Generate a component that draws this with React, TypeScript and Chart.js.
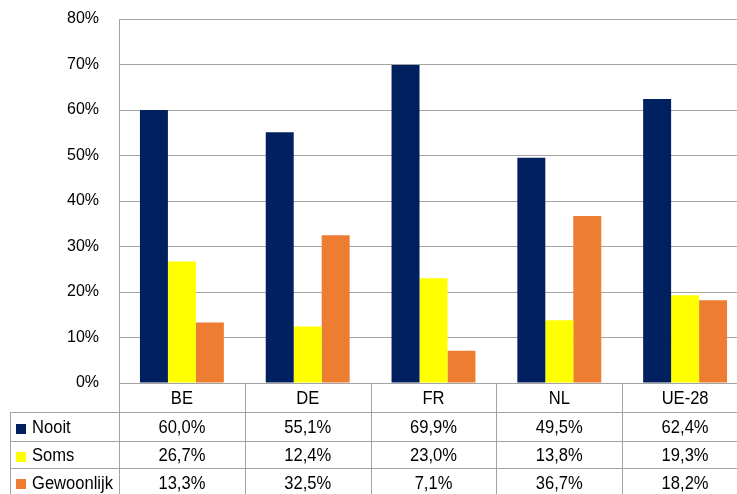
import React, { useEffect, useRef } from "react";
import { Chart, registerables } from "chart.js";

Chart.register(...registerables);

const categories = ["BE", "DE", "FR", "NL", "UE-28"];
const seriesNames = ["Nooit", "Soms", "Gewoonlijk"];
const nooit = [60.0, 55.1, 69.9, 49.5, 62.4];
const soms = [26.7, 12.4, 23.0, 13.8, 19.3];
const gewoonlijk = [13.3, 32.5, 7.1, 36.7, 18.2];
const colors = ["#002060", "#ffff00", "#ed7d31"];
const yTicks = [0, 10, 20, 30, 40, 50, 60, 70, 80];

const GRID = "#a3a3a3";
const FAMILY = '"Liberation Sans", Arial, sans-serif';
const FONT = '18px ' + FAMILY;
const SX = 0.92;

const fmt = (v: number) => v.toFixed(1).replace(".", ",") + "%";

const tablePlugin = {
  id: "dataTable",
  afterDraw(chart: any) {
    const ctx = chart.ctx;
    const area = chart.chartArea;
    const n = categories.length;
    const cw = (area.right - area.left) / n;
    const top = area.bottom;
    const rowTops = [top, top + 29, top + 58, top + 85, top + 113];
    const tableLeft = 10;
    const data = [nooit, soms, gewoonlijk];
    ctx.save();
    ctx.strokeStyle = GRID;
    ctx.lineWidth = 1;
    const hline = (x1: number, x2: number, y: number) => {
      ctx.beginPath();
      ctx.moveTo(x1, Math.round(y) + 0.5);
      ctx.lineTo(x2, Math.round(y) + 0.5);
      ctx.stroke();
    };
    const vline = (x: number, y1: number, y2: number) => {
      ctx.beginPath();
      ctx.moveTo(Math.round(x) + 0.5, y1);
      ctx.lineTo(Math.round(x) + 0.5, y2);
      ctx.stroke();
    };
    const text = (t: string, x: number, y: number, align: string) => {
      ctx.save();
      ctx.translate(x, y);
      ctx.scale(SX, 1);
      ctx.textAlign = align;
      ctx.fillText(t, 0, 0);
      ctx.restore();
    };
    hline(area.left, area.right, rowTops[0]);
    for (let r = 1; r < rowTops.length; r++) hline(tableLeft, area.right, rowTops[r]);
    vline(tableLeft, rowTops[1], rowTops[4]);
    for (let i = 0; i <= n; i++) vline(area.left + i * cw, rowTops[0], rowTops[4]);

    ctx.font = FONT;
    ctx.fillStyle = "#000";
    ctx.textBaseline = "middle";
    categories.forEach((c, i) => {
      const cx = chart.scales.x.getPixelForValue(i);
      text(c, cx, (rowTops[0] + rowTops[1]) / 2 + 2, "center");
    });
    for (let s = 0; s < 3; s++) {
      const cy = (rowTops[s + 1] + rowTops[s + 2]) / 2 + 2;
      ctx.fillStyle = colors[s];
      ctx.fillRect(16, Math.round(cy - 5), 10, 10);
      ctx.fillStyle = "#000";
      text(seriesNames[s], 32, cy, "left");
      data[s].forEach((v, i) => {
        const cx = chart.scales.x.getPixelForValue(i);
        text(fmt(v), cx, cy, "center");
      });
    }
    ctx.restore();
  },
};

export default function App() {
  const ref = useRef<HTMLCanvasElement>(null);
  useEffect(() => {
    if (!ref.current) return;
    const chart = new Chart(ref.current, {
      type: "bar",
      data: {
        labels: categories,
        datasets: [
          { label: seriesNames[0], data: nooit, backgroundColor: colors[0] },
          { label: seriesNames[1], data: soms, backgroundColor: colors[1] },
          { label: seriesNames[2], data: gewoonlijk, backgroundColor: colors[2] },
        ],
      },
      options: {
        responsive: false,
        animation: false,
        layout: { padding: { top: 19, right: 12, bottom: 111, left: 0 } },
        datasets: { bar: { categoryPercentage: 0.667, barPercentage: 1 } },
        plugins: { legend: { display: false }, tooltip: { enabled: false } },
        scales: {
          x: { display: false },
          y: {
            min: 0,
            max: 80,
            afterFit(scale: any) {
              scale.width = 119;
              scale.paddingTop = 0;
              scale.paddingBottom = 0;
            },
            afterBuildTicks(scale: any) {
              scale.ticks = yTicks.map((v) => ({ value: v }));
            },
            ticks: {
              padding: 20,
              color: "#000",
              font: { family: FAMILY, size: 16 },
              callback: (v: any) => v + "%",
            },
            grid: { color: GRID, drawTicks: false, lineWidth: 1 },
            border: { display: true, color: GRID },
          },
        },
      },
      plugins: [tablePlugin],
    });
    return () => chart.destroy();
  }, []);
  return (
    <div style={{ position: "fixed", left: 0, top: 0, width: 760, height: 494, background: "#fff" }}>
      <canvas ref={ref} width={760} height={494} />
    </div>
  );
}
